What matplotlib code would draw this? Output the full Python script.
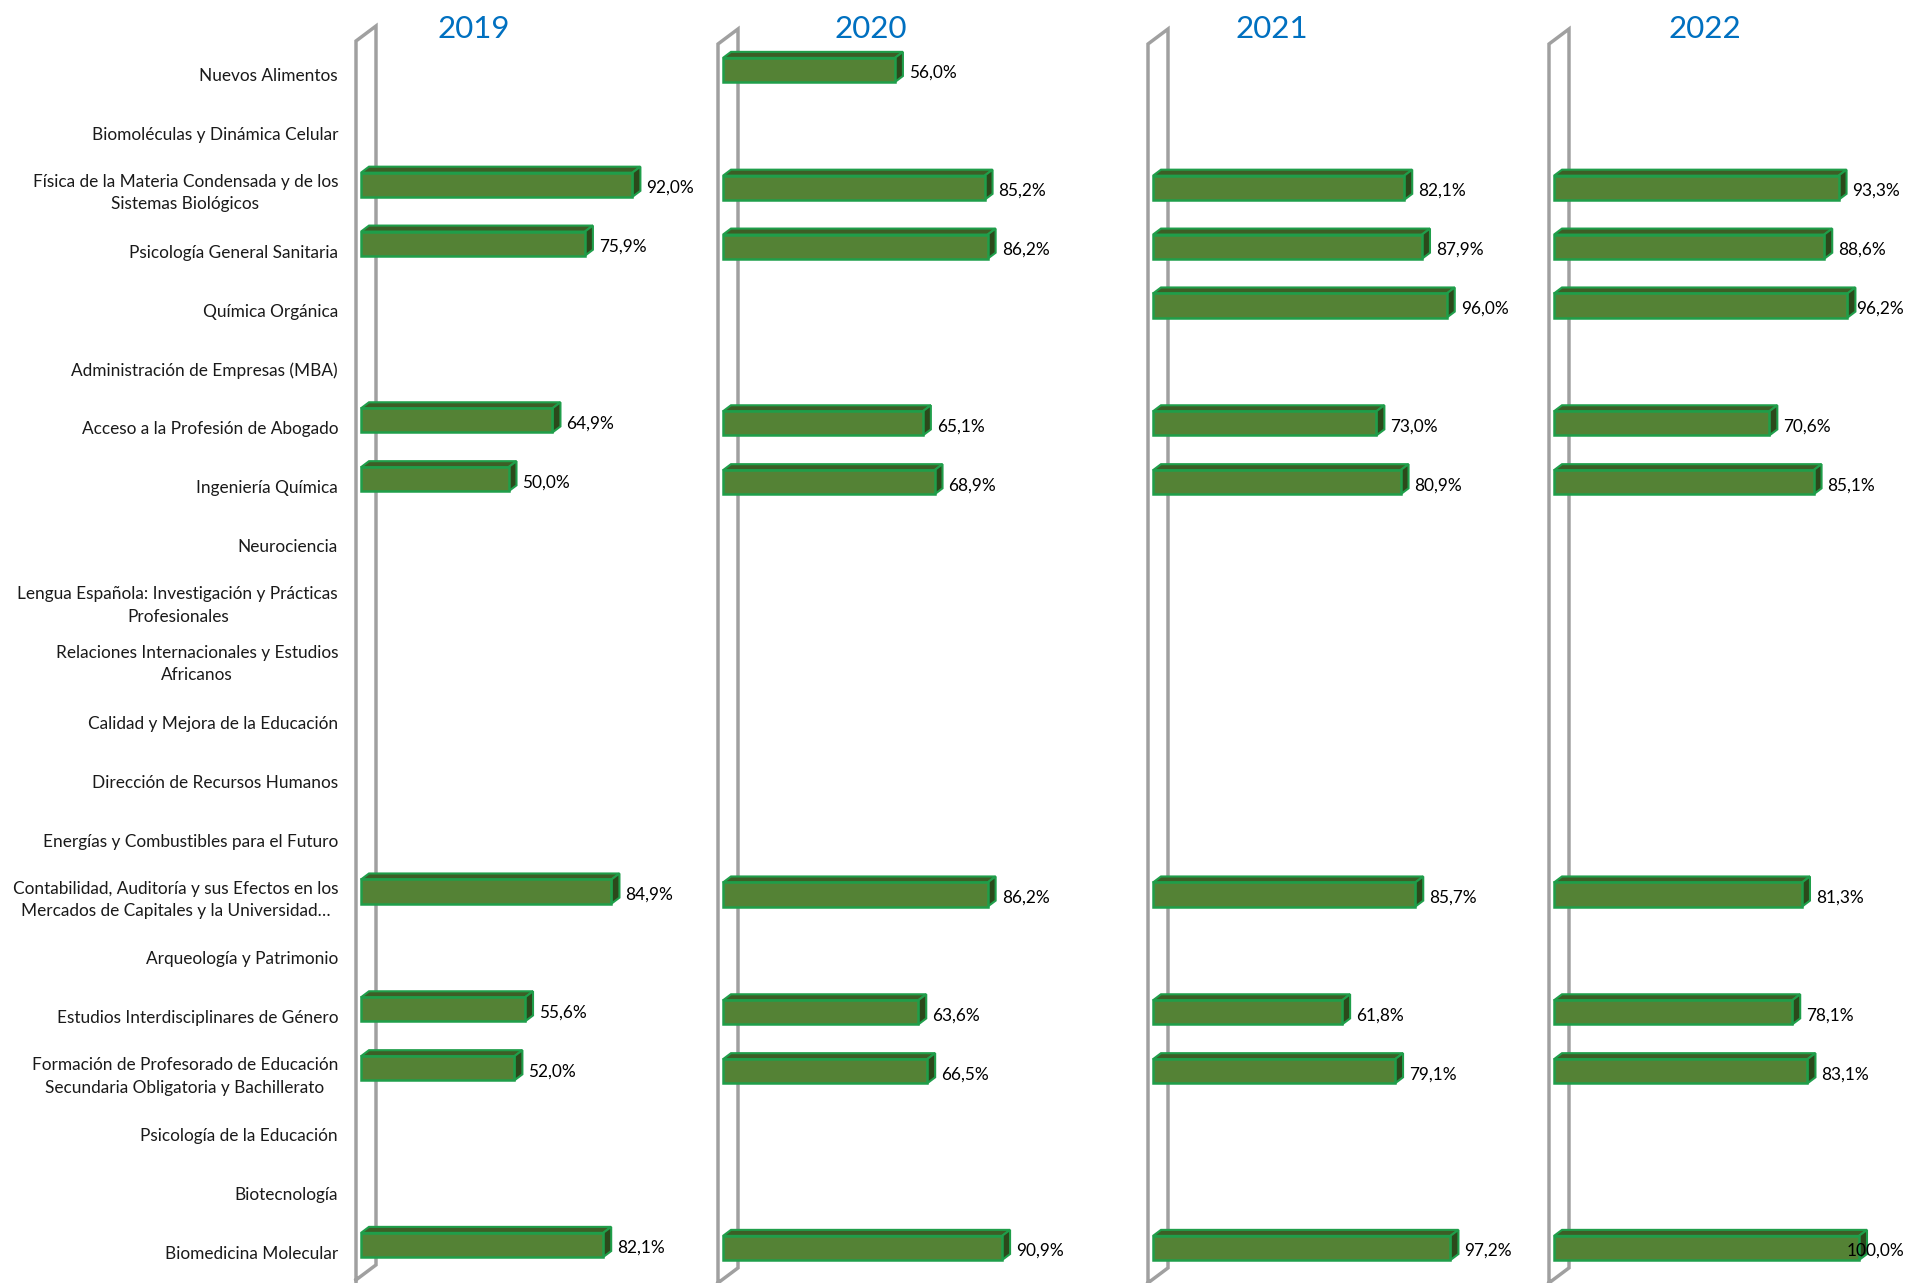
import matplotlib
matplotlib.use('Agg')
import matplotlib.pyplot as plt
from matplotlib.patches import Polygon
from matplotlib.transforms import ScaledTranslation
import numpy as np

plt.rcParams['font.family'] = ['Lato', 'DejaVu Sans']

# datos
categorias = [
    'Nuevos Alimentos',
    'Biomoléculas y Dinámica Celular',
    'Física de la Materia Condensada y de los\nSistemas Biológicos',
    'Psicología General Sanitaria',
    'Química Orgánica',
    'Administración de Empresas (MBA)',
    'Acceso a la Profesión de Abogado',
    'Ingeniería Química',
    'Neurociencia',
    'Lengua Española: Investigación y Prácticas\nProfesionales',
    'Relaciones Internacionales y Estudios\nAfricanos',
    'Calidad y Mejora de la Educación',
    'Dirección de Recursos Humanos',
    'Energías y Combustibles para el Futuro',
    'Contabilidad, Auditoría y sus Efectos en los\nMercados de Capitales y la Universidad…',
    'Arqueología y Patrimonio',
    'Estudios Interdisciplinares de Género',
    'Formación de Profesorado de Educación\nSecundaria Obligatoria y Bachillerato',
    'Psicología de la Educación',
    'Biotecnología',
    'Biomedicina Molecular',
]
anios = ['2019', '2020', '2021', '2022']
N = None
v2019 = [N, N, 92.0, 75.9, N, N, 64.9, 50.0, N, N, N, N, N, N, 84.9, N, 55.6, 52.0, N, N, 82.1]
v2020 = [56.0, N, 85.2, 86.2, N, N, 65.1, 68.9, N, N, N, N, N, N, 86.2, N, 63.6, 66.5, N, N, 90.9]
v2021 = [N, N, 82.1, 87.9, 96.0, N, 73.0, 80.9, N, N, N, N, N, N, 85.7, N, 61.8, 79.1, N, N, 97.2]
v2022 = [N, N, 93.3, 88.6, 96.2, N, 70.6, 85.1, N, N, N, N, N, N, 81.3, N, 78.1, 83.1, N, N, 100.0]
valores = [v2019, v2020, v2021, v2022]

# maquetacion (pixeles)
W, H, DPI = 1907, 1283, 100
x0_px = [361, 723, 1153, 1554]     # donde cae el 0 % en cada panel
ancho_px = [295, 307, 306, 305]    # pixeles para el 100 %
top_px = [37.5, 40.5, 40.5, 40.5]
fila_px = 58.9
titulo_x = [474, 871, 1272, 1705]

verde = '#548235'
verde_sup = '#3d5e26'
verde_lado = '#2c491b'
borde = '#1f9e4a'
gris = '#a0a0a0'

fig = plt.figure(figsize=(W / DPI, H / DPI), dpi=DPI)
fig.patch.set_facecolor('white')
n = len(categorias)
y = np.arange(n)
alto = 0.41
renderer = fig.canvas.get_renderer()

for k, (anio, vals) in enumerate(zip(anios, valores)):
    alto_ax = n * fila_px
    ax = fig.add_axes([x0_px[k] / W, 1 - (top_px[k] + alto_ax) / H,
                       ancho_px[k] / W, alto_ax / H])
    ax.set_xlim(0, 1)
    ax.set_ylim(n - 0.5, -0.5)
    ax.patch.set_alpha(0)
    for s in ax.spines.values():
        s.set_visible(False)
    ax.set_xticks([])

    # pared 3D
    wx0 = -5 / ancho_px[k]
    wx1 = 15 / ancho_px[k]
    wdy = 15 / fila_px
    yt = -0.5 + 3.5 / fila_px
    yb = n - 0.5 - 9.5 / fila_px
    ax.plot([wx0, wx0, wx1, wx1, wx0], [n + 1, yt, yt - wdy, yb, yb + wdy],
            color=gris, lw=2.5, clip_on=False, zorder=1, solid_joinstyle='miter')

    # barras 3D
    dx = 8 / ancho_px[k]
    dy = 6 / fila_px
    idx = [i for i, v in enumerate(vals) if v is not None]
    f = np.array([vals[i] for i in idx]) / 100
    for i, fi in zip(idx, f):
        ys = i - alto / 2
        yi = i + alto / 2
        ax.add_patch(Polygon([(0, ys), (fi, ys), (fi + dx, ys - dy), (dx, ys - dy)],
                             closed=True, fc=verde_sup, ec=borde, lw=1.5,
                             clip_on=False, zorder=3))
        ax.add_patch(Polygon([(fi, ys), (fi, yi), (fi + dx, yi - dy), (fi + dx, ys - dy)],
                             closed=True, fc=verde_lado, ec=borde, lw=1.5,
                             clip_on=False, zorder=3))
    ax.barh(idx, f, height=alto, color=verde, edgecolor=borde, linewidth=1.8,
            zorder=4, clip_on=False)

    # etiquetas de valor
    for i, fi in zip(idx, f):
        t = ax.text(fi + 14 / ancho_px[k], i + 3 / fila_px,
                    f'{fi * 100:.1f}%'.replace('.', ','),
                    ha='left', va='center', fontsize=12.4, color='black',
                    zorder=5, clip_on=False)
        bb = t.get_window_extent(renderer)
        if bb.x1 > W - 3:
            xd = ax.transData.inverted().transform((W - 3, 0))[0]
            t.set_x(xd)
            t.set_ha('right')

    # categorias solo en el primer panel
    if k == 0:
        ax.set_yticks(y)
        ax.set_yticklabels(categorias, fontsize=12.4, color='#1a1a1a')
        ax.tick_params(axis='y', length=0, pad=16.5)
        for lab in ax.get_yticklabels():
            baja = 3.5 if '\n' in lab.get_text() else 7.5
            lab.set_multialignment('center')
            lab.set_linespacing(1.5)
            lab.set_transform(lab.get_transform() +
                              ScaledTranslation(0, -baja / DPI, fig.dpi_scale_trans))
    else:
        ax.set_yticks([])

    fig.text(titulo_x[k] / W, 1 - 29 / H, anio, color='#0070C0',
             fontsize=22.5, ha='center', va='center')

fig.savefig('out.png', dpi=DPI, facecolor='white')
